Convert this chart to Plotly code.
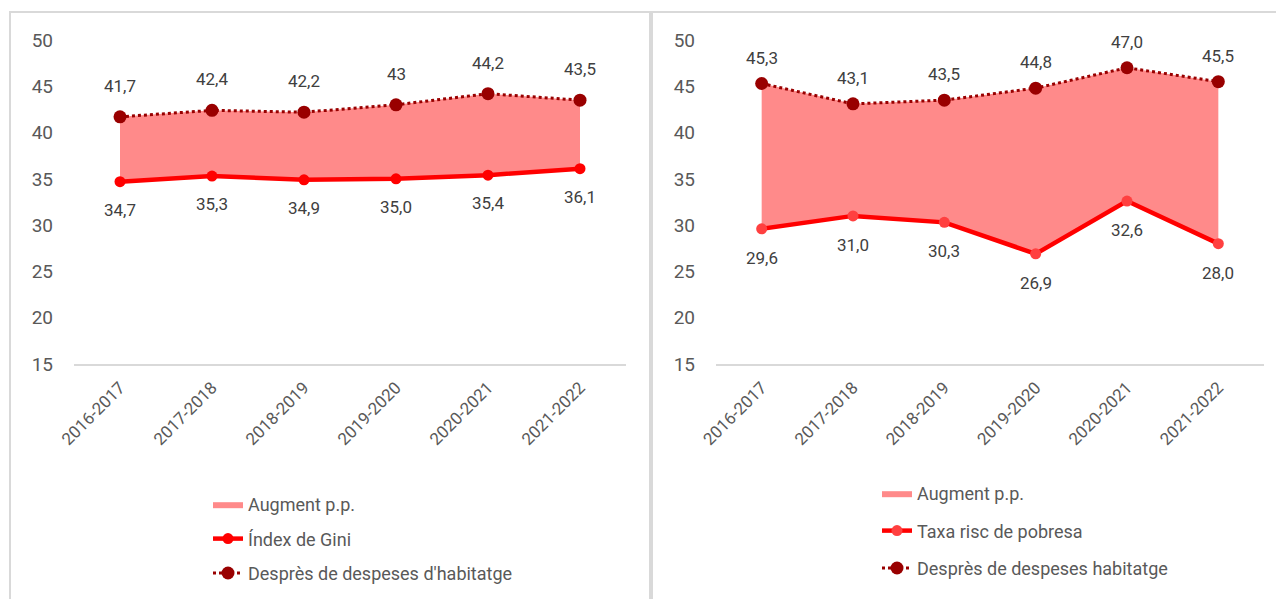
import plotly.graph_objects as go

periods = ['2016-2017', '2017-2018', '2018-2019', '2019-2020', '2020-2021', '2021-2022']

# left panel
gini = [34.7, 35.3, 34.9, 35.0, 35.4, 36.1]
gini_txt = ['34,7', '35,3', '34,9', '35,0', '35,4', '36,1']
gini_hous = [41.7, 42.4, 42.2, 43.0, 44.2, 43.5]
gini_hous_txt = ['41,7', '42,4', '42,2', '43', '44,2', '43,5']

# right panel
pov = [29.6, 31.0, 30.3, 26.9, 32.6, 28.0]
pov_txt = ['29,6', '31,0', '30,3', '26,9', '32,6', '28,0']
pov_hous = [45.3, 43.1, 43.5, 44.8, 47.0, 45.5]
pov_hous_txt = ['45,3', '43,1', '43,5', '44,8', '47,0', '45,5']

W, H = 1284, 599
FILL = '#ff8a8a'
RED = '#ff0000'
DARK = '#990000'
GREY = '#595959'
FONT = 'Roboto'

fig = go.Figure()


def add_panel(fig, xa, ya, leg, low, low_txt, low_name, low_mk, high, high_txt, high_name, up, down):
    fig.add_trace(go.Scatter(
        x=periods + periods[::-1], y=high + low[::-1],
        xaxis=xa, yaxis=ya, legend=leg, legendgroup=leg + 'a',
        fill='toself', fillcolor=FILL, mode='lines', line=dict(width=0, color=FILL),
        name='Augment p.p.', hoverinfo='skip'))
    fig.add_trace(go.Scatter(
        x=periods, y=low, xaxis=xa, yaxis=ya, legend=leg, legendgroup=leg + 'b',
        mode='lines+markers', name=low_name,
        line=dict(color=RED, width=4.5), marker=dict(color=low_mk, size=11)))
    fig.add_trace(go.Scatter(
        x=periods, y=high, xaxis=xa, yaxis=ya, legend=leg, legendgroup=leg + 'c',
        mode='lines+markers', name=high_name,
        line=dict(color=DARK, width=3, dash='dot'), marker=dict(color=DARK, size=13)))
    for p, v, t in zip(periods, low, low_txt):
        fig.add_annotation(x=p, y=v, text=t, xref=xa, yref=ya, showarrow=False,
                           yshift=down, font=dict(size=17, color='#404040', family=FONT))
    for p, v, t in zip(periods, high, high_txt):
        fig.add_annotation(x=p, y=v, text=t, xref=xa, yref=ya, showarrow=False,
                           yshift=up, font=dict(size=17, color='#404040', family=FONT))


add_panel(fig, 'x', 'y', 'legend', gini, gini_txt, 'Índex de Gini', RED,
          gini_hous, gini_hous_txt, "Desprès de despeses d'habitatge", 31, -28)
add_panel(fig, 'x2', 'y2', 'legend2', pov, pov_txt, 'Taxa risc de pobresa', '#ff4040',
          pov_hous, pov_hous_txt, 'Desprès de despeses habitatge', 26, -29)

# page body adds an 8 px offset, so target pixel positions are shifted by -8
ydom = [(H - 356) / H, (H - 32) / H]
xax = dict(type='category', range=[-0.5, 5.5], showline=True, linecolor='#d9d9d9', linewidth=2,
           showgrid=False, ticks='', tickangle=-45, automargin=False, ticklabelstandoff=5,
           tickfont=dict(size=17, color=GREY, family=FONT), fixedrange=True)
yax = dict(range=[15, 50], tickvals=[15, 20, 25, 30, 35, 40, 45, 50],
           showgrid=False, zeroline=False, showline=False, ticks='', automargin=False,
           ticklabelstandoff=20,
           tickfont=dict(size=19, color=GREY, family=FONT), domain=ydom, fixedrange=True)

legfont = dict(size=18, color=GREY, family=FONT)

fig.update_layout(
    width=W, height=H,
    margin=dict(l=0, r=0, t=0, b=0),
    paper_bgcolor='white', plot_bgcolor='white',
    showlegend=True,
    xaxis=dict(xax, domain=[66 / W, 618 / W], anchor='y'),
    yaxis=dict(yax, anchor='x'),
    xaxis2=dict(xax, domain=[708 / W, 1256 / W], anchor='y2'),
    yaxis2=dict(yax, anchor='x2'),
    legend=dict(x=200 / W, y=(H - 478) / H, xanchor='left', yanchor='top',
                font=legfont, tracegroupgap=8, bgcolor='rgba(0,0,0,0)'),
    legend2=dict(x=869 / W, y=(H - 467) / H, xanchor='left', yanchor='top',
                 font=legfont, tracegroupgap=11, bgcolor='rgba(0,0,0,0)'),
    shapes=[
        dict(type='rect', xref='paper', yref='paper', x0=2 / W, x1=642 / W,
             y0=-0.01, y1=(H - 4) / H, line=dict(color='#d9d9d9', width=2)),
        dict(type='rect', xref='paper', yref='paper', x0=644 / W, x1=1282 / W,
             y0=-0.01, y1=(H - 4) / H, line=dict(color='#d9d9d9', width=2)),
    ],
)

fig.write_html('out.html')
